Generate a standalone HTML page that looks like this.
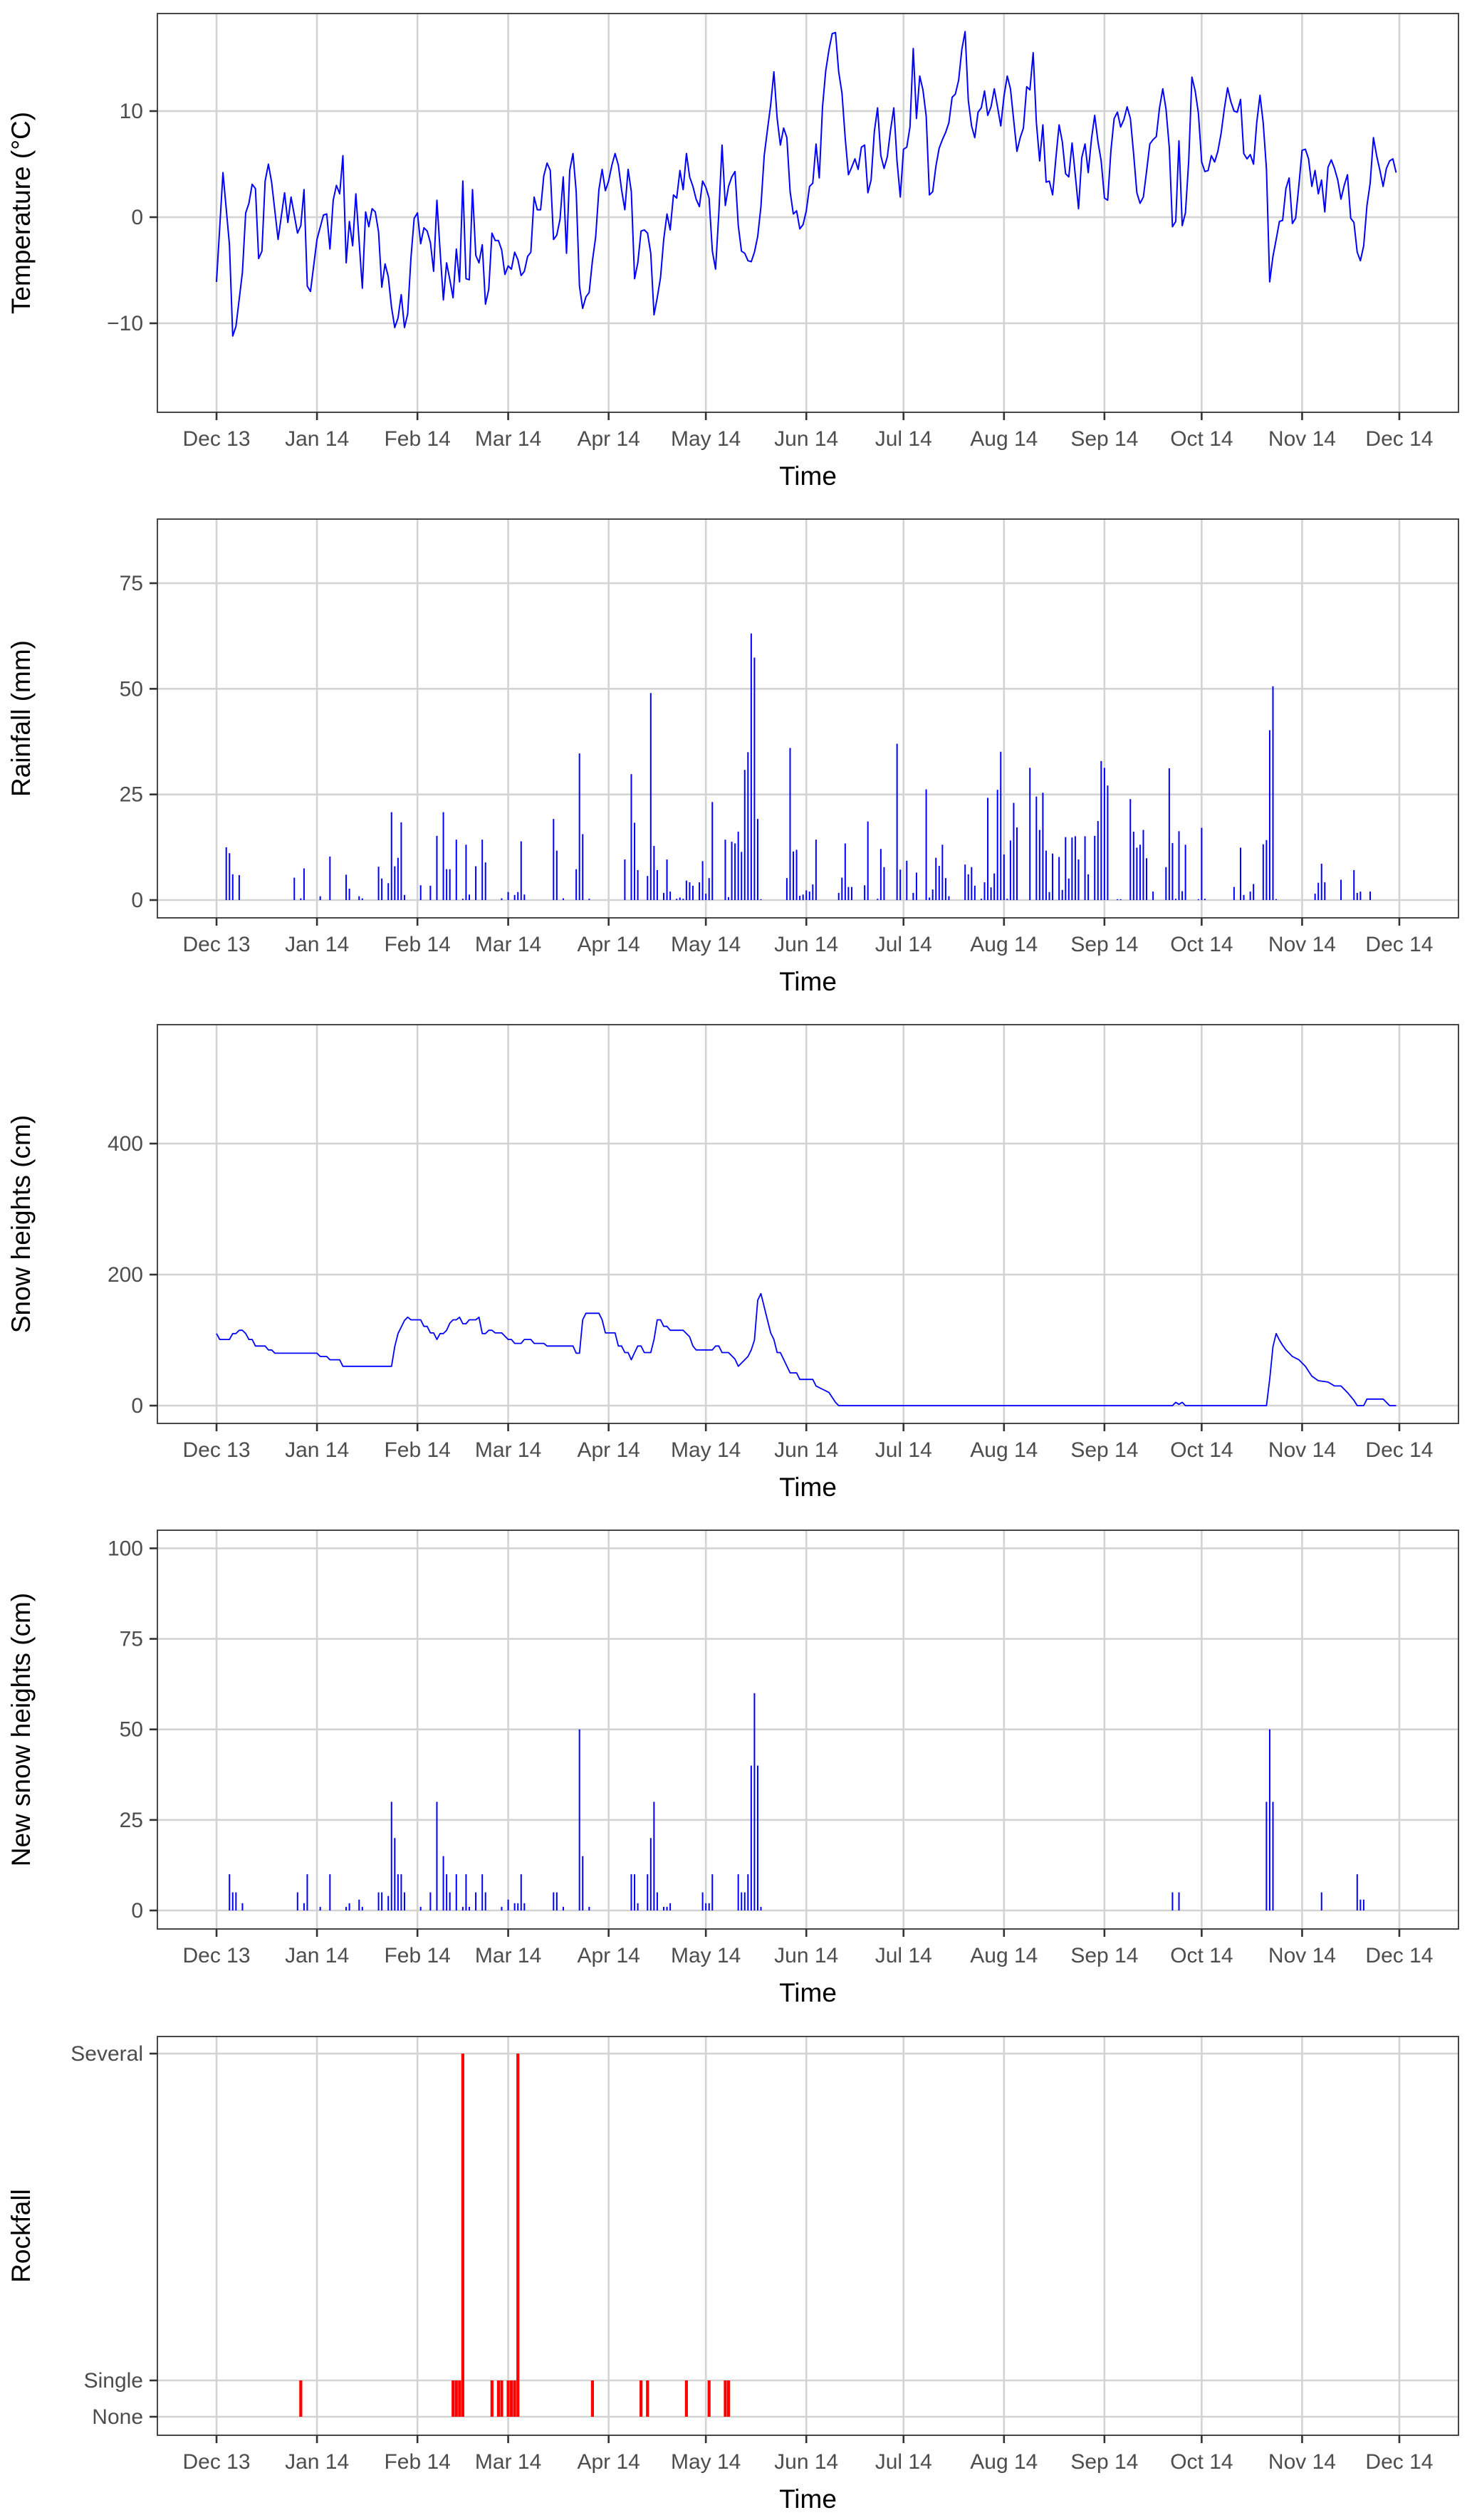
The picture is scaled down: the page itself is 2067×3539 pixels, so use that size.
<!DOCTYPE html>
<html><head><meta charset="utf-8"><style>
html,body{margin:0;padding:0;background:#fff;}
svg{display:block;font-family:"Liberation Sans",sans-serif;}
</style></head><body>
<svg id="chart" width="2067" height="3539" viewBox="0 0 2067 3539" xmlns="http://www.w3.org/2000/svg"></svg>
<script>
const monthTickDays=[0,31,62,90,121,151,182,212,243,274,304,335,365];
const monthTickLabels=["Dec 13","Jan 14","Feb 14","Mar 14","Apr 14","May 14","Jun 14","Jul 14","Aug 14","Sep 14","Oct 14","Nov 14","Dec 14"];

const tempDays=[0,2,4,5,6,8,9,10,11,12,13,14,15,16,17,19,21,22,23,25,26,27,28,29,30,31,33,34,35,36,37,38,39,40,41,42,43,45,46,47,48,49,50,51,52,53,54,55,56,57,58,59,60,61,62,63,64,65,66,67,68,69,70,71,72,73,74,75,76,77,78,79,80,81,82,83,84,85,86,87,88,89,90,91,92,93,94,95,96,97,98,99,100,101,102,103,104,105,106,107,108,109,110,111,112,113,114,115,116,117,118,119,120,121,122,123,124,125,126,127,128,129,130,131,132,133,134,135,136,137,138,139,140,141,142,143,144,145,146,147,148,149,150,151,152,153,154,155,156,157,158,159,160,161,162,163,164,165,166,167,168,169,170,171,172,173,174,175,176,177,178,179,180,181,182,183,184,185,186,187,188,189,190,191,192,193,194,195,196,197,198,199,200,201,202,203,204,205,206,207,208,209,210,211,212,213,214,215,216,217,218,219,220,221,222,223,224,225,226,227,228,229,230,231,232,233,234,235,236,237,238,239,240,241,242,243,244,245,246,247,248,249,250,251,252,253,254,255,256,257,258,259,260,261,262,263,264,265,266,267,268,269,270,271,272,273,274,275,276,277,278,279,280,281,282,283,284,285,286,287,288,289,290,291,292,293,294,295,296,297,298,299,300,301,302,303,304,305,306,307,308,309,310,311,312,313,314,315,316,317,318,319,320,321,322,323,324,325,326,327,328,329,330,331,332,333,334,335,336,337,338,339,340,341,342,343,344,345,346,347,348,349,350,351,352,353,354,355,356,357,358,359,360,361,362,363,364];
const tempValues=[-6.1,4.2,-2.6,-11.2,-10.3,-5.2,0.4,1.3,3.1,2.7,-3.9,-3.2,3.4,5.0,3.3,-2.1,2.3,-0.5,1.9,-1.5,-0.8,2.6,-6.5,-7.0,-4.5,-2.1,0.2,0.3,-3.0,1.6,3.0,2.2,5.8,-4.3,-0.4,-2.7,2.2,-6.7,0.5,-0.9,0.8,0.5,-1.4,-6.6,-4.4,-5.6,-8.5,-10.4,-9.5,-7.3,-10.4,-9.1,-3.8,-0.1,0.4,-2.5,-1.0,-1.3,-2.4,-5.1,1.6,-3.2,-7.8,-4.3,-5.9,-7.6,-3.0,-6.1,3.4,-5.8,-5.9,2.6,-3.6,-4.3,-2.6,-8.2,-6.8,-1.5,-2.2,-2.2,-3.1,-5.4,-4.6,-4.9,-3.3,-4.0,-5.5,-5.1,-3.7,-3.3,1.9,0.7,0.7,3.9,5.1,4.4,-2.1,-1.7,-0.2,3.8,-3.4,4.4,6.0,2.4,-6.5,-8.6,-7.5,-7.1,-4.1,-1.9,2.6,4.5,2.5,3.4,4.9,6.0,4.9,2.6,0.7,4.5,2.4,-5.8,-4.3,-1.3,-1.2,-1.5,-3.4,-9.2,-7.6,-5.7,-2.1,0.3,-1.2,2.1,1.8,4.4,2.6,6.0,3.8,2.9,1.7,1.0,3.4,2.8,1.8,-3.2,-4.9,0.4,6.8,1.1,2.9,3.8,4.3,-0.8,-3.2,-3.4,-4.1,-4.2,-3.3,-1.8,1.0,5.8,8.2,10.6,13.7,9.3,6.8,8.4,7.5,2.4,0.3,0.6,-1.1,-0.7,0.6,2.9,3.2,6.9,3.7,10.4,13.8,15.8,17.3,17.4,13.7,11.7,7.5,4.0,4.7,5.5,4.5,6.6,6.8,2.3,3.5,8.1,10.3,5.8,4.6,5.7,8.2,10.3,5.3,1.9,6.4,6.6,8.5,15.9,9.3,13.3,12.0,9.5,2.1,2.4,4.8,6.5,7.3,8.0,8.9,11.3,11.6,12.9,15.8,17.5,11.0,8.6,7.5,9.9,10.3,11.9,9.6,10.4,12.1,10.4,8.6,11.4,13.3,12.1,9.1,6.2,7.5,8.4,12.3,12.0,15.5,8.9,5.3,8.7,3.3,3.4,2.1,5.5,8.7,7.1,4.1,3.8,7.0,4.0,0.8,5.6,6.9,4.2,7.4,9.6,7.1,5.3,1.8,1.6,6.3,9.3,9.9,8.5,9.2,10.4,9.3,6.0,2.3,1.3,1.9,4.3,6.9,7.3,7.6,10.3,12.1,10.2,6.6,-0.9,-0.4,7.2,-0.8,0.4,5.3,13.2,11.9,9.8,5.2,4.3,4.4,5.8,5.2,6.2,7.9,10.2,12.2,10.9,10.0,9.9,11.1,6.0,5.5,5.9,5.0,8.9,11.5,8.9,4.5,-6.1,-3.7,-2.1,-0.4,-0.3,2.7,3.7,-0.6,-0.1,3.0,6.3,6.4,5.5,2.9,4.4,2.2,3.5,0.5,4.7,5.4,4.6,3.5,1.7,3.0,4.0,-0.1,-0.5,-3.3,-4.1,-2.7,1.1,3.2,7.5,5.8,4.4,2.9,4.6,5.3,5.5,4.2];

const rainDays=[3,4,5,7,24,26,27,32,35,40,41,44,45,50,51,53,54,55,56,57,58,63,66,68,70,71,72,74,76,77,78,80,82,83,88,90,92,93,94,95,104,105,107,111,112,113,115,126,128,129,130,133,134,135,136,138,139,140,142,143,144,145,146,147,149,150,151,152,153,157,158,159,160,161,162,163,164,165,166,167,168,176,177,178,179,180,181,182,183,184,185,192,193,194,195,196,200,201,204,205,206,210,211,213,215,216,219,220,221,222,223,224,225,226,231,232,233,234,236,237,238,239,240,241,242,243,244,245,246,247,251,253,254,255,256,257,258,260,261,262,263,264,265,266,268,269,271,272,273,274,275,278,279,282,283,284,285,286,287,289,293,294,295,296,297,298,299,303,304,305,314,316,317,319,320,323,324,325,326,327,339,340,341,342,347,351,352,353,356];
const rainValues=[12.5,11.1,6.1,5.9,5.3,0.4,7.5,0.9,10.3,6.0,2.7,0.9,0.4,7.9,5.1,4.0,20.8,8.0,10.0,18.4,1.2,3.5,3.4,15.2,20.8,7.3,7.3,14.3,0.3,13.1,1.3,8.0,14.3,8.9,0.4,1.9,1.2,1.9,13.9,1.3,19.2,11.7,0.4,7.3,34.7,15.6,0.3,9.6,29.8,18.3,7.1,5.7,49.0,12.8,7.1,1.7,9.6,2.0,0.3,0.6,0.3,4.6,4.2,3.4,4.2,9.2,1.5,5.2,23.2,14.3,0.7,13.8,13.4,16.2,11.4,30.8,35.0,63.1,57.4,19.2,0.2,5.2,36.0,11.5,11.9,1.0,1.3,2.3,2.0,3.7,14.3,1.7,5.3,13.4,3.1,3.1,3.5,18.6,0.3,12.1,7.8,37.0,7.2,9.3,1.7,6.5,26.2,0.6,2.5,10.0,8.1,13.1,5.2,0.9,8.4,6.1,7.8,3.4,0.3,4.2,24.2,3.0,6.3,26.1,35.1,10.8,0.3,14.1,23.0,17.2,31.3,24.5,16.6,25.4,11.7,1.9,11.0,10.2,2.4,14.9,5.1,14.8,15.1,9.6,15.1,6.1,15.2,18.7,32.9,31.3,27.1,0.2,0.2,23.9,16.2,12.4,13.1,16.6,9.9,2.0,7.8,31.2,13.5,0.3,16.3,2.1,13.1,0.2,17.1,0.3,3.1,12.4,1.2,2.0,3.8,13.2,14.2,40.2,50.6,0.2,1.5,4.1,8.6,4.2,4.8,7.1,1.7,2.0,2.0];

const snowDays=[0,1,4,5,6,7,8,9,10,11,12,15,16,17,18,31,32,34,35,38,39,54,55,56,58,59,60,63,64,65,66,67,68,69,70,71,72,73,74,75,76,77,78,80,81,82,83,84,85,86,88,90,91,92,94,95,97,98,101,102,110,111,112,113,114,118,119,120,123,124,125,126,127,128,129,130,131,132,134,135,136,137,138,139,140,144,146,147,148,153,154,155,156,158,160,161,164,165,166,167,168,170,171,172,173,174,177,179,180,184,185,187,189,191,192,295,296,297,298,299,324,325,326,327,328,329,330,332,334,336,338,340,343,345,347,349,351,352,354,355,360,361,362,364];
const snowValues=[110,101,101,110,110,115,115,110,101,101,91,91,85,85,80,80,75,75,70,70,60,60,90,110,130,135,131,131,121,121,111,111,101,110,110,115,126,131,131,135,125,125,131,131,135,110,110,115,115,111,111,101,101,95,95,101,101,95,95,91,91,80,80,131,141,141,131,111,111,91,91,81,81,70,81,91,91,81,81,101,131,131,121,121,115,115,105,91,85,85,91,91,81,81,71,60,75,85,100,161,171,131,111,101,81,81,50,50,40,40,30,25,20,5,0,0,5,2,5,0,0,40,90,110,100,92,85,75,70,60,45,38,36,30,30,20,8,0,0,10,10,5,0,0];

const newSnowDays=[4,5,6,8,25,27,28,32,35,40,41,44,45,50,51,53,54,55,56,57,58,63,66,68,70,71,72,74,76,77,78,80,82,83,88,90,92,93,94,95,104,105,107,112,113,115,128,129,130,133,134,135,136,138,139,140,150,151,152,153,161,162,163,164,165,166,167,168,295,297,324,325,326,341,352,353,354];
const newSnowValues=[10,5,5,2,5,2,10,1,10,1,2,3,1,5,5,4,30,20,10,10,5,1,5,30,15,10,5,10,1,10,1,5,10,5,1,3,2,2,10,2,5,5,1,50,15,1,10,10,2,10,20,30,5,1,1,2,5,2,2,10,10,5,5,10,40,60,40,1,5,5,30,50,30,5,10,3,3];

const rockDays=[26,73,74,75,76,85,87,88,90,91,92,93,116,131,133,145,152,157,158];
const rockValues=[1,1,1,1,10,1,1,1,1,1,1,10,1,1,1,1,1,1,1];

const tempTicks=[-10,0,10];
const rainTicks=[0,25,50,75];
const snowTicks=[0,200,400];
const newSnowTicks=[0,25,50,75,100];
const rockTickValues=[0,1,10];
const rockTickLabels=["None","Single","Several"];

const NS="http://www.w3.org/2000/svg";
const svg=document.getElementById('chart');
const X0=221,X1=2048,D0=-18.25,D1=383.25;
function xs(d){return X0+(d-D0)/(D1-D0)*(X1-X0);}
function mk(tag,attrs,parent){const e=document.createElementNS(NS,tag);for(const k in attrs)e.setAttribute(k,attrs[k]);(parent||svg).appendChild(e);return e;}

const panels=[
 {key:'temperature',title:'Temperature (°C)',top:19,zero:305,ppu:14.9,ticks:tempTicks,labels:null},
 {key:'rainfall',title:'Rainfall (mm)',top:729,zero:1264,ppu:5.933,ticks:rainTicks,labels:null},
 {key:'snow-height',title:'Snow heights (cm)',top:1439,zero:1974,ppu:0.92,ticks:snowTicks,labels:null},
 {key:'new-snow',title:'New snow heights (cm)',top:2149,zero:2683,ppu:5.086,ticks:newSnowTicks,labels:null},
 {key:'rockfall',title:'Rockfall',top:2860,zero:3394,ppu:51,ticks:rockTickValues,labels:rockTickLabels}
];
const H=560;

panels.forEach((p,pi)=>{
  const g=mk('g',{});
  
  
  const ys=v=>p.zero-v*p.ppu;
  const bottom=p.top+H;
  mk('rect',{x:X0,y:p.top,width:X1-X0,height:H,fill:'#fff'},g);
  p.ticks.forEach(t=>{
    const l=mk('line',{x1:X0,x2:X1,y1:ys(t),y2:ys(t),stroke:'#d3d3d3','stroke-width':2.6},g);
    
    
  });
  monthTickDays.forEach(d=>{
    const l=mk('line',{x1:xs(d),x2:xs(d),y1:p.top,y2:bottom,stroke:'#d3d3d3','stroke-width':2.6},g);
    
    
  });
  const dg=mk('g',{},g);
  
  
  if(pi===0){
    let dstr='';
    tempDays.forEach((d,i)=>{dstr+=(i?'L':'M')+xs(d).toFixed(1)+','+ys(tempValues[i]).toFixed(1);});
    const pth=mk('path',{d:dstr,fill:'none',stroke:'#0000ff','stroke-width':2,'stroke-linejoin':'round'},dg);
    
    
  } else if(pi===2){
    let dstr='';
    snowDays.forEach((d,i)=>{dstr+=(i?'L':'M')+xs(d).toFixed(1)+','+ys(snowValues[i]).toFixed(1);});
    const pth=mk('path',{d:dstr,fill:'none',stroke:'#0000ff','stroke-width':1.8,'stroke-linejoin':'round'},dg);
    
    
  } else {
    const days=pi===1?rainDays:(pi===3?newSnowDays:rockDays);
    const vals=pi===1?rainValues:(pi===3?newSnowValues:rockValues);
    const w=pi===4?4.2:2;
    const col=pi===4?'#ff0000':'#0000ff';
    days.forEach((d,i)=>{
      const y0=ys(0),y1=ys(vals[i]);
      const r=mk('rect',{x:xs(d)-w/2,y:Math.min(y0,y1),width:w,height:Math.abs(y0-y1),fill:col},dg);
      
      
    });
  }
  const b=mk('rect',{x:X0,y:p.top,width:X1-X0,height:H,fill:'none',stroke:'#333','stroke-width':1.8},g);
  
  
  p.ticks.forEach((t,i)=>{
    mk('line',{x1:X0-11,x2:X0,y1:ys(t),y2:ys(t),stroke:'#333','stroke-width':2.6},g);
    const tx=mk('text',{x:X0-20,y:ys(t)+10,'text-anchor':'end','font-size':30,fill:'#4d4d4d'},g);
    tx.textContent=p.labels?p.labels[i]:(t<0?'\u2212'+Math.abs(t):String(t));
    
    
  });
  monthTickDays.forEach((d,i)=>{
    mk('line',{x1:xs(d),x2:xs(d),y1:bottom,y2:bottom+11,stroke:'#333','stroke-width':2.6},g);
    const tx=mk('text',{x:xs(d),y:bottom+47,'text-anchor':'middle','font-size':30,fill:'#4d4d4d'},g);
    tx.textContent=monthTickLabels[i];
    
    
  });
  const xt=mk('text',{x:(X0+X1)/2,y:bottom+102,'text-anchor':'middle','font-size':37,fill:'#000'},g);
  xt.textContent='Time';
  
  
  const cy=p.top+H/2;
  const yt=mk('text',{x:0,y:0,'text-anchor':'middle','font-size':37,fill:'#000',transform:'translate(42,'+cy+') rotate(-90)'},g);
  yt.textContent=p.title;
  
  
});
</script>
</body></html>
